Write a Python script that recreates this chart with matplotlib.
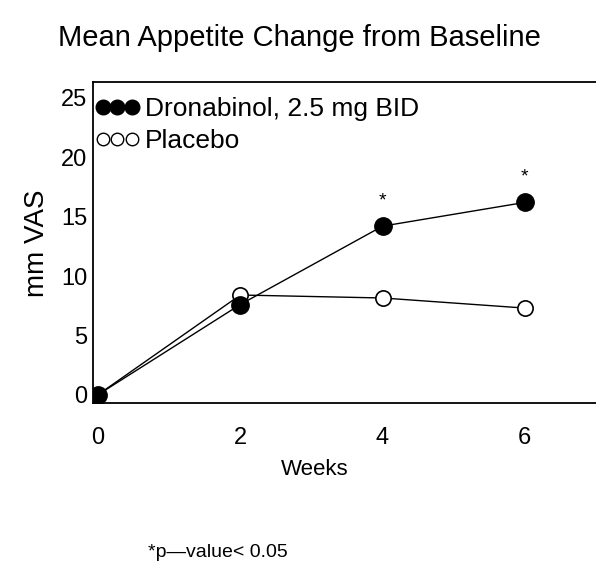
import matplotlib
matplotlib.use('Agg')
import matplotlib.pyplot as plt
from matplotlib.lines import Line2D

weeks = [0, 2, 4, 6]
dronabinol = [0.0, 7.6, 14.2, 16.2]
placebo = [0.0, 8.4, 8.15, 7.3]
signif_weeks = [4, 6]
labels = ['Dronabinol, 2.5 mg BID', 'Placebo']

plt.rcParams['font.family'] = ['Liberation Sans', 'DejaVu Sans']
plt.rcParams['font.size'] = 17

fig = plt.figure(figsize=(5.96, 5.85), dpi=100)
ax = fig.add_axes([0.156, 0.311, 0.844, 0.548])

ax.plot(weeks, placebo, '-', color='black', lw=1, marker='o', ms=11,
        mfc='white', mec='black', mew=1.2, zorder=3)
ax.plot(weeks, dronabinol, '-', color='black', lw=1, marker='o', ms=12.5,
        mfc='black', mec='black', zorder=4)

# significance stars
for w in signif_weeks:
    ax.annotate('*', xy=(w, dronabinol[weeks.index(w)]), xytext=(0, 12),
                textcoords='offset points', ha='center', va='bottom', fontsize=14)

ax.set_xlim(-0.07, 7.0)
ax.set_ylim(-0.7, 26.3)
ax.set_xticks(weeks)
ax.set_yticks([0, 5, 10, 15, 20, 25])
ax.tick_params(length=0, pad=4)
ax.tick_params(axis='x', pad=17)
ax.spines['right'].set_visible(False)
for s in ['left', 'bottom', 'top']:
    ax.spines[s].set_linewidth(1.3)

ax.set_xlabel('Weeks', fontsize=16)
ax.xaxis.set_label_coords(0.44, -0.175)
ax.set_ylabel('mm VAS', fontsize=20, labelpad=8)
fig.text(0.502, 0.935, 'Mean Appetite Change from Baseline', ha='center',
         va='center', fontsize=21)
fig.text(0.365, 0.055, '*p\u2014value< 0.05', ha='center', va='center', fontsize=14)

handles = [Line2D([], [], ls='none', marker='o', ms=10.5, mfc='black', mec='black'),
           Line2D([], [], ls='none', marker='o', ms=9, mfc='white', mec='black')]
ax.legend(handles, labels, loc='upper left', bbox_to_anchor=(0.004, 0.955),
          frameon=False, numpoints=3, handlelength=1.7, handletextpad=0.2,
          labelspacing=0.3, borderaxespad=0.0, borderpad=0.0, fontsize=19)

fig.savefig('out.png', dpi=100)
